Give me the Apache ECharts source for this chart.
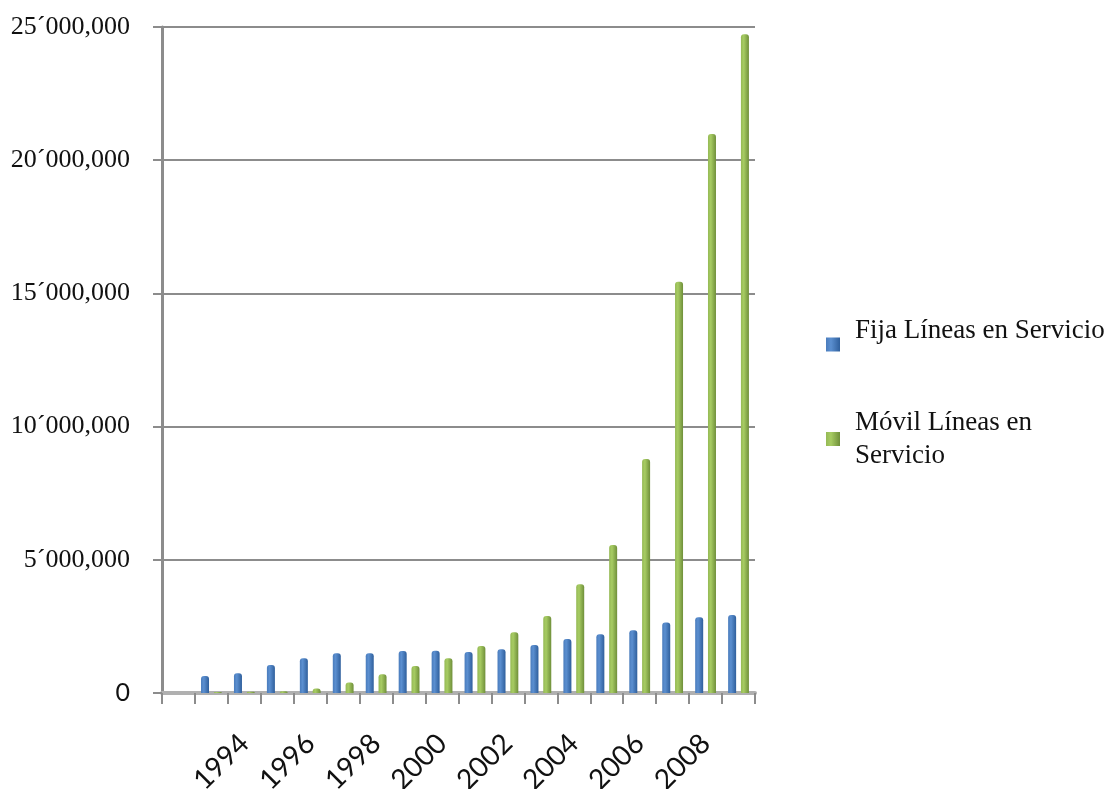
<!DOCTYPE html>
<html>
<head>
<meta charset="utf-8">
<title>Líneas en Servicio</title>
<script src="https://cdn.jsdelivr.net/npm/echarts@6/dist/echarts.min.js"></script>
<style>
  html, body { margin: 0; padding: 0; background: #ffffff; }
  #chart { width: 1115px; height: 789px; }
</style>
</head>
<body>
<div id="chart"></div>
<script>
// Years on the category axis; the first slot is the empty depth slot of the floor
const years = ['', '1993', '1994', '1995', '1996', '1997', '1998', '1999', '2000',
  '2001', '2002', '2003', '2004', '2005', '2006', '2007', '2008', '2009'];

// Fixed lines in service
const fija = [null, 640000, 740000, 1050000, 1300000, 1490000, 1490000, 1580000, 1590000,
  1540000, 1640000, 1800000, 2030000, 2210000, 2360000, 2650000, 2840000, 2930000];

// Mobile lines in service
const movil = [null, 40000, 50000, 70000, 170000, 390000, 700000, 1010000, 1300000,
  1760000, 2280000, 2890000, 4080000, 5560000, 8780000, 15440000, 20980000, 24730000];

const seriesNames = ['Fija Líneas en Servicio', 'Móvil Líneas en Servicio'];

// Millions separated with an acute mark, thousands with a comma
function fmtValue(v) {
  if (v === 0) return '{zero|0}';
  const m = Math.floor(v / 1e6);
  const rest = v % 1e6;
  const th = String(Math.floor(rest / 1000)).padStart(3, '0');
  const un = String(rest % 1000).padStart(3, '0');
  return m + '\u00B4' + th + ',' + un;
}

function cylinder(light, mid, dark) {
  return {
    type: 'linear', x: 0, y: 0, x2: 1, y2: 0,
    colorStops: [
      { offset: 0, color: mid },
      { offset: 0.35, color: light },
      { offset: 1, color: dark }
    ]
  };
}

const serif = '"Liberation Serif", "Times New Roman", serif';
const sans = 'Lato, "Open Sans", sans-serif';

const legendBase = {
  orient: 'vertical',
  left: 826,
  padding: 0,
  icon: 'rect',
  itemWidth: 14,
  itemHeight: 14
};

const chart = echarts.init(document.getElementById('chart'), null, { renderer: 'canvas' });

chart.setOption({
  backgroundColor: '#ffffff',
  animation: false,
  grid: { left: 162, right: 360, top: 27, bottom: 96, containLabel: false, outerBoundsMode: 'none' },
  legend: [
    Object.assign({}, legendBase, {
      top: 317,
      data: [seriesNames[0]],
      // label sits a little above its swatch
      formatter: function (name) { return '{f|' + name + '}'; },
      textStyle: {
        fontFamily: serif, fontSize: 27, color: '#111', lineHeight: 33,
        padding: [0, 0, 0, 10],
        rich: {
          f: { fontFamily: serif, fontSize: 27, color: '#111', lineHeight: 33, padding: [0, 0, 28, 0] }
        }
      }
    }),
    Object.assign({}, legendBase, {
      top: 406,
      data: [seriesNames[1]],
      // two-line label
      formatter: function () { return 'Móvil Líneas en\nServicio'; },
      textStyle: {
        fontFamily: serif, fontSize: 27, color: '#111', lineHeight: 33,
        padding: [0, 0, 0, 10]
      }
    })
  ],
  xAxis: {
    type: 'category',
    data: years,
    boundaryGap: true,
    axisLine: { show: true, lineStyle: { color: '#b0b0b0', width: 4 } },
    axisTick: { show: true, length: 11, interval: 0, lineStyle: { color: '#8c8c8c', width: 2 } },
    axisLabel: {
      interval: 1,
      rotate: 45,
      margin: 46,
      fontFamily: sans,
      fontSize: 28,
      color: '#111'
    },
    splitLine: { show: false }
  },
  yAxis: {
    type: 'value',
    min: 0,
    max: 25000000,
    interval: 5000000,
    axisLine: { show: true, lineStyle: { color: '#8c8c8c', width: 3 } },
    axisTick: { show: true, length: 9, lineStyle: { color: '#8c8c8c', width: 2 } },
    axisLabel: {
      margin: 32,
      formatter: fmtValue,
      fontFamily: serif,
      fontSize: 26,
      color: '#111',
      rich: {
        zero: { fontFamily: sans, fontSize: 25, color: '#111' }
      }
    },
    splitLine: { show: true, lineStyle: { color: '#8c8c8c', width: 2 } }
  },
  series: [
    {
      name: seriesNames[0],
      type: 'bar',
      data: fija,
      barWidth: 8,
      barGap: '60%',
      itemStyle: {
        color: cylinder('#5b8fd0', '#4a7cbc', '#2f5f9c'),
        borderRadius: [3, 3, 0, 0]
      }
    },
    {
      name: seriesNames[1],
      type: 'bar',
      data: movil,
      barWidth: 8,
      itemStyle: {
        color: cylinder('#a7cc63', '#95b955', '#6f8f3a'),
        borderRadius: [3, 3, 0, 0]
      }
    }
  ]
});
</script>
</body>
</html>
